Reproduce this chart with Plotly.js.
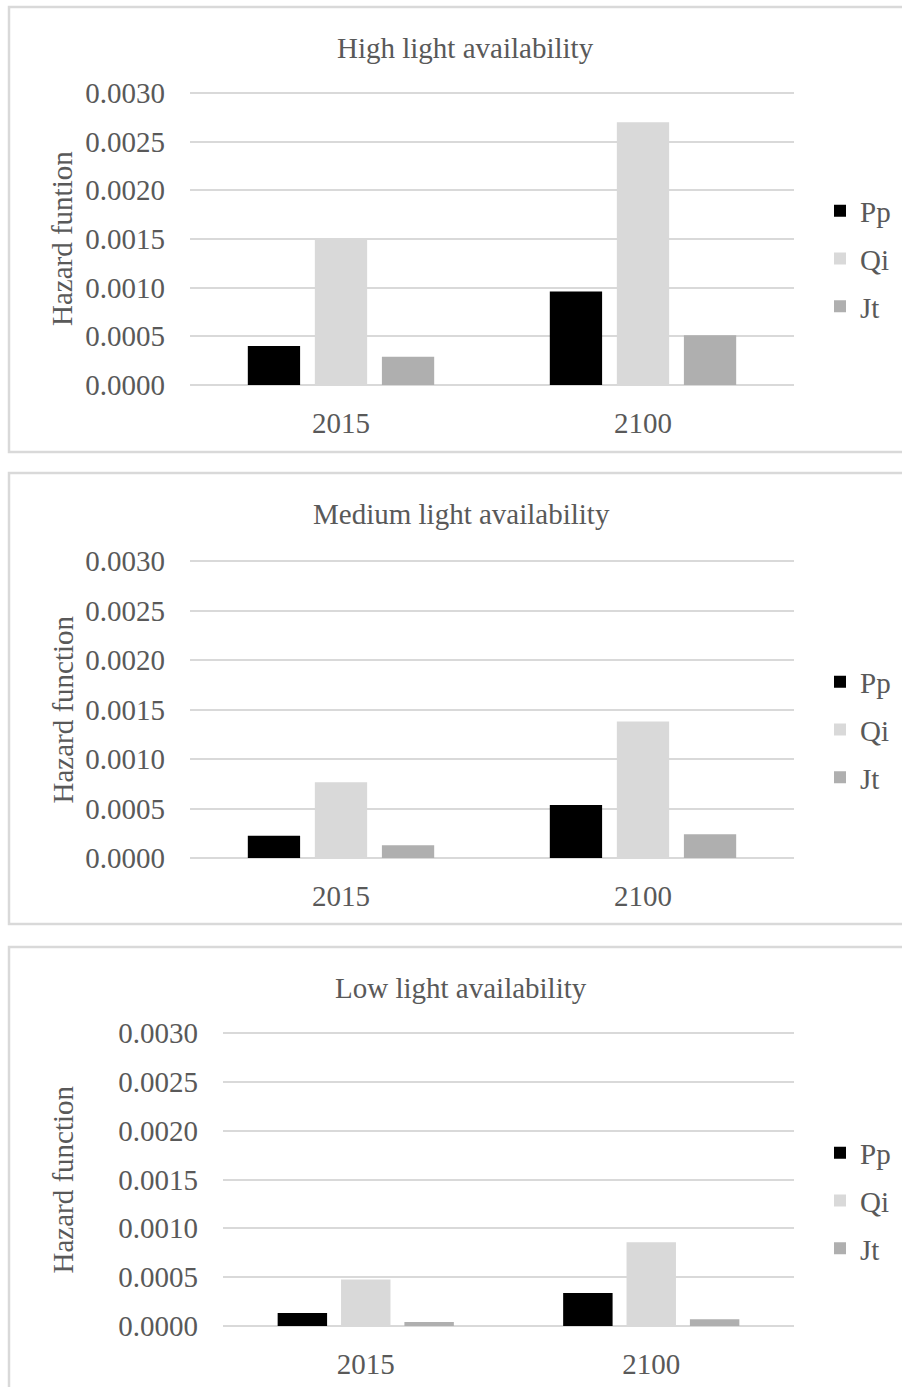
<!DOCTYPE html>
<html>
<head>
<meta charset="utf-8">
<script src="https://cdn.plot.ly/plotly-3.0.1.min.js"></script>
<style>
  html, body { margin: 0; padding: 0; background: #ffffff; }
  #chart { width: 902px; height: 1387px; }
</style>
</head>
<body>
<div id="chart"></div>
<script>
// Categories and series
const years = ['2015', '2100'];
const speciesNames = ['Pp', 'Qi', 'Jt'];
const speciesColors = ['#000000', '#d9d9d9', '#afafaf'];

// Hazard function values per light level
const highPp = [0.00040, 0.00096];
const highQi = [0.00150, 0.00270];
const highJt = [0.00029, 0.00051];

const mediumPp = [0.000225, 0.000535];
const mediumQi = [0.000765, 0.00138];
const mediumJt = [0.000130, 0.000240];

const lowPp = [0.000133, 0.000338];
const lowQi = [0.000475, 0.000858];
const lowJt = [0.000040, 0.000068];

// Axis and panel labels
const panelTitles = ['High light availability', 'Medium light availability', 'Low light availability'];
const yTitles = ['Hazard funtion', 'Hazard function', 'Hazard function'];
const yTickValues = [0, 0.0005, 0.0010, 0.0015, 0.0020, 0.0025, 0.0030];

const W = 902, H = 1387;
const px = x => x / W;
const py = y => 1 - y / H;

const FONT = 'Liberation Serif, Times New Roman, serif';
const TEXT = '#595959';
const GRID = '#d9d9d9';
const FS = 29;

// Pixel geometry of each panel: plot box, frame, title, legend centre
const panels = [
  { series: [highPp, highQi, highJt], plotL: 190, plotR: 794, plotT: 93, plotB: 385,
    frameT: 7, frameB: 452, titleX: 465, titleY: 48, yTitleX: 62, legendY: 259 },
  { series: [mediumPp, mediumQi, mediumJt], plotL: 190, plotR: 794, plotT: 561, plotB: 858,
    frameT: 473, frameB: 924, titleX: 461, titleY: 514, yTitleX: 62, legendY: 730 },
  { series: [lowPp, lowQi, lowJt], plotL: 223, plotR: 794, plotT: 1033, plotB: 1326,
    frameT: 947, frameB: 1400, titleX: 461, titleY: 988, yTitleX: 62, legendY: 1201 }
];

// a small pad keeps the 0 and 0.003 gridlines inside the axis range so both are drawn
const PAD_PX = 2;

const traces = [];
const layout = {
  width: W, height: H,
  margin: { l: 0, r: 0, t: 0, b: 0 },
  paper_bgcolor: '#ffffff', plot_bgcolor: 'rgba(0,0,0,0)',
  font: { family: FONT, color: TEXT, size: FS },
  barmode: 'group', bargap: 0.334, bargroupgap: 0.22,
  shapes: [], annotations: []
};

panels.forEach((p, i) => {
  const n = i + 1;
  const sfx = n === 1 ? '' : String(n);
  const legendName = 'legend' + sfx;

  p.series.forEach((vals, k) => {
    traces.push({
      type: 'bar', x: years, y: vals, name: speciesNames[k],
      marker: { color: speciesColors[k], line: { width: 0 } },
      xaxis: 'x' + sfx, yaxis: 'y' + sfx,
      legend: legendName, legendgroup: 'g' + n + k,
      hoverinfo: 'skip'
    });
  });

  const plotH = p.plotB - p.plotT;
  const pad = 0.003 * PAD_PX / plotH;

  layout['xaxis' + sfx] = {
    domain: [px(p.plotL), px(p.plotR)], anchor: 'y' + sfx,
    type: 'category', showgrid: false, zeroline: false, showline: false,
    ticks: '', ticklabelstandoff: 16,
    tickfont: { family: FONT, size: FS, color: TEXT }, fixedrange: true
  };
  layout['yaxis' + sfx] = {
    domain: [py(p.plotB + PAD_PX), py(p.plotT - PAD_PX)], anchor: 'x' + sfx,
    range: [-pad, 0.003 + pad], tickvals: yTickValues, tickformat: '.4f',
    showgrid: true, gridcolor: GRID, gridwidth: 2,
    zeroline: false, showline: false, ticks: '', ticklabelstandoff: 24,
    tickfont: { family: FONT, size: FS, color: TEXT }, fixedrange: true
  };

  layout[legendName] = {
    x: px(820), xanchor: 'left', y: py(p.legendY), yanchor: 'middle',
    xref: 'paper', yref: 'paper',
    bgcolor: 'rgba(0,0,0,0)', borderwidth: 0,
    traceorder: 'grouped', tracegroupgap: 7,
    font: { family: FONT, size: FS, color: TEXT },
    itemclick: false, itemdoubleclick: false
  };

  // panel frame
  layout.shapes.push({
    type: 'rect', xref: 'paper', yref: 'paper', layer: 'below',
    x0: px(9), x1: px(W + 20), y0: py(p.frameB), y1: py(p.frameT),
    line: { color: GRID, width: 2.5 }, fillcolor: 'rgba(0,0,0,0)'
  });

  layout.annotations.push({
    text: panelTitles[i], xref: 'paper', yref: 'paper',
    x: px(p.titleX), y: py(p.titleY), xanchor: 'center', yanchor: 'middle',
    showarrow: false, font: { family: FONT, size: FS, color: TEXT }
  });
  layout.annotations.push({
    text: yTitles[i], xref: 'paper', yref: 'paper', textangle: -90,
    x: px(p.yTitleX), y: py((p.plotT + p.plotB) / 2), xanchor: 'center', yanchor: 'middle',
    showarrow: false, font: { family: FONT, size: FS, color: TEXT }
  });
});

Plotly.newPlot('chart', traces, layout, { staticPlot: true, displayModeBar: false });
</script>
</body>
</html>
